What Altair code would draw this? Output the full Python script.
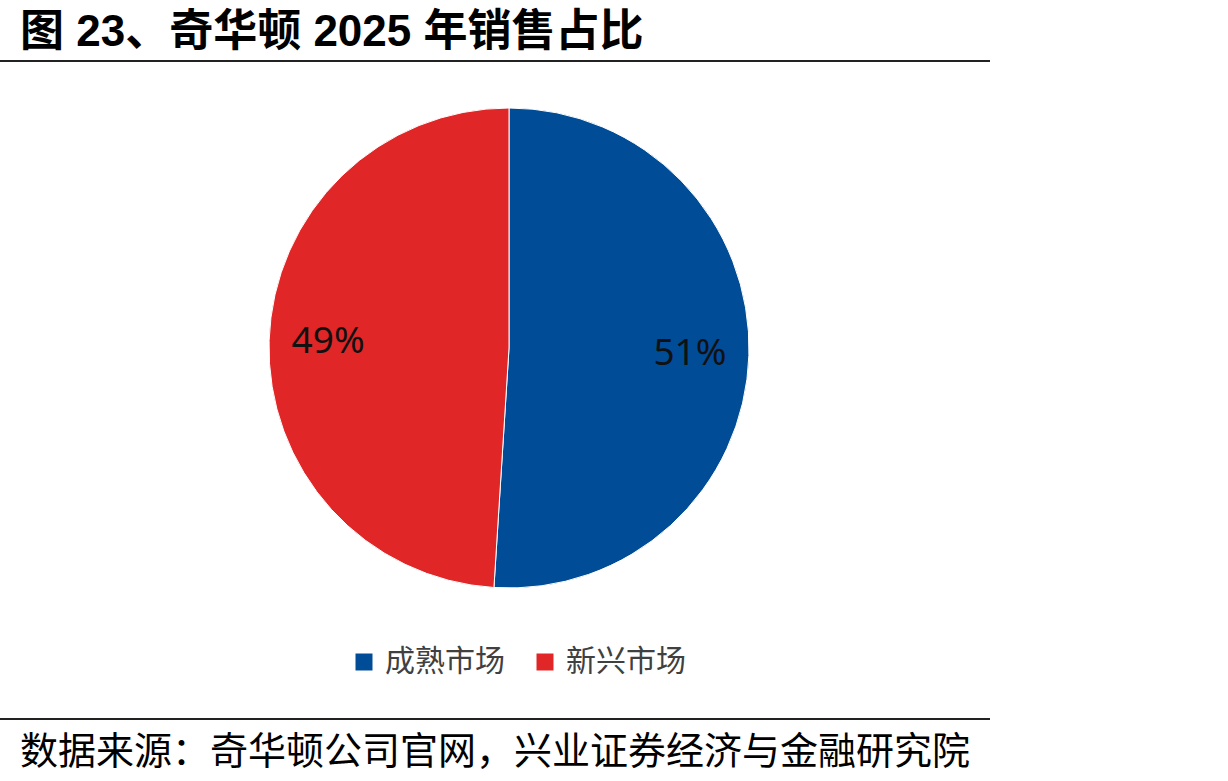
import altair as alt
import pandas as pd

categories = ["成熟市场", "新兴市场"]
shares = [51, 49]
labels = ["51%", "49%"]
colors = ["#004C97", "#E02626"]

title_text = "图 23、奇华顿 2025 年销售占比"
source_text = "数据来源：奇华顿公司官网，兴业证券经济与金融研究院"

df = pd.DataFrame({"cat": categories, "share": shares, "label": labels, "ord": [0, 1]})

CX, CY, R = 509, 348, 240

base = alt.Chart(df).encode(
    theta=alt.Theta("share:Q", stack=True),
    order=alt.Order("ord:Q"),
    x=alt.value(CX),
    y=alt.value(CY),
)

pie = base.mark_arc(outerRadius=R, stroke="white", strokeWidth=1).encode(
    color=alt.Color(
        "cat:N",
        scale=alt.Scale(domain=categories, range=colors),
        sort=categories,
        legend=alt.Legend(
            title=None,
            orient="none",
            legendX=349,
            legendY=647,
            direction="horizontal",
            symbolType="square",
            symbolSize=289,
            symbolStrokeWidth=0,
            labelFont="Noto Sans CJK SC",
            labelFontSize=30,
            labelColor="#404040",
            labelOffset=6,
            columnPadding=25,
            padding=0,
        ),
    )
)

txt = base.mark_text(radius=181, font="Noto Sans", fontSize=37, color="#111111").encode(
    text="label:N"
)

tdf = pd.DataFrame({"t": [title_text]})
title = alt.Chart(tdf).mark_text(
    align="left", baseline="alphabetic", font="Liberation Sans, Noto Sans CJK SC",
    fontSize=44, fontWeight="bold", color="#000000"
).encode(x=alt.value(20), y=alt.value(46), text="t:N")

sdf = pd.DataFrame({"t": [source_text]})
source = alt.Chart(sdf).mark_text(
    align="left", baseline="alphabetic", font="Noto Sans CJK SC",
    fontSize=38, color="#000000"
).encode(x=alt.value(20), y=alt.value(764), text="t:N")

rdf = pd.DataFrame({"y": [61, 719]})
rules = alt.Chart(rdf).mark_rule(color="#222222", strokeWidth=2).encode(
    x=alt.value(0), x2=alt.value(990), y=alt.Y("y:Q", scale=None)
)

chart = alt.layer(pie, txt, title, source, rules).properties(
    width=1228, height=781,
    autosize=alt.AutoSizeParams(type="none"),
    padding=0,
    background="white",
).configure_view(stroke=None)

chart.save("out.html", embed_options={"renderer": "svg", "actions": False})
